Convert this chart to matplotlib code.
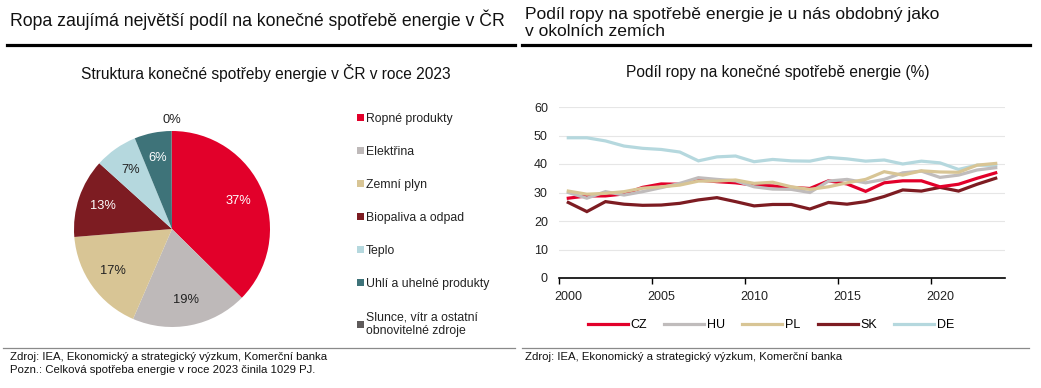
import matplotlib
matplotlib.use("Agg")
import matplotlib.pyplot as plt
from matplotlib.lines import Line2D
import numpy as np

plt.rcParams['font.family'] = ['Liberation Sans', 'DejaVu Sans']

W, H = 1041, 388

def fx(x):
    return x / W

def fy(y):
    return 1 - y / H

# ---------------- data ----------------
pie_labels = ["Ropné produkty", "Elektřina", "Zemní plyn", "Biopaliva a odpad",
              "Teplo", "Uhlí a uhelné produkty", "Slunce, vítr a ostatní\nobnovitelné zdroje"]
pie_values = [37.4, 19.1, 17.2, 13.0, 7.1, 6.1, 0.1]
pie_text = ["37%", "19%", "17%", "13%", "7%", "6%", "0%"]

years = list(range(2000, 2024))
cz = [28.0, 28.8, 28.8, 29.5, 31.8, 33.0, 32.9, 34.4, 33.8, 33.4, 32.6, 32.3,
      31.8, 31.4, 34.1, 33.0, 30.4, 33.4, 34.1, 34.1, 32.0, 32.9, 35.0, 36.9]
hu = [30.0, 28.0, 30.3, 29.1, 30.3, 31.7, 33.2, 35.2, 34.6, 34.1, 32.0, 31.2,
      31.1, 30.0, 34.0, 34.6, 33.4, 34.6, 36.9, 37.5, 35.3, 36.1, 37.9, 38.7]
pl = [30.5, 29.4, 29.7, 30.3, 31.5, 32.0, 32.6, 34.0, 34.0, 34.4, 33.2, 33.6,
      32.0, 31.1, 32.0, 33.4, 34.6, 37.3, 36.1, 37.6, 37.2, 37.1, 39.6, 40.2]
sk = [26.5, 23.3, 26.8, 25.9, 25.5, 25.6, 26.2, 27.4, 28.2, 26.8, 25.3, 25.8,
      25.8, 24.2, 26.5, 25.9, 26.8, 28.6, 30.9, 30.5, 31.8, 30.5, 32.9, 35.0]
de = [49.2, 49.2, 48.1, 46.3, 45.5, 45.1, 44.2, 41.1, 42.5, 42.8, 40.8, 41.6,
      41.1, 41.0, 42.3, 41.8, 41.0, 41.4, 40.0, 41.0, 40.4, 38.1, 39.6, 39.5]
series_names = ["CZ", "HU", "PL", "SK", "DE"]
series_values = [cz, hu, pl, sk, de]
y_ticks = [0, 10, 20, 30, 40, 50, 60]
x_ticks = [2000, 2005, 2010, 2015, 2020]

# ---------------- styles ----------------
pie_colors = ["#E2002A", "#BEB9B9", "#D8C595", "#7D1C22", "#B5D8DE", "#3E7379", "#5E5A5A"]
pie_text_colors = ["white", "#222222", "#222222", "white", "#222222", "white", "#222222"]
line_colors = ["#E2002A", "#C0BCBC", "#D8C595", "#7D1C22", "#B5D8DE"]
line_order = [4, 3, 0, 1, 2]  # draw order (DE, SK, CZ, HU, PL)

fig = plt.figure(figsize=(W / 100, H / 100), dpi=100)
fig.patch.set_facecolor("white")

# ---------------- headers ----------------
fig.text(fx(10), fy(20), "Ropa zaujímá největší podíl na konečné spotřebě energie v ČR",
         fontsize=12.7, ha="left", va="center", color="#111111")
fig.text(fx(525), fy(23), "Podíl ropy na spotřebě energie je u nás obdobný jako\nv okolních zemích",
         fontsize=12.6, ha="left", va="center", color="#111111", linespacing=1.2)
for x0, x1 in [(7, 515), (522, 1030)]:
    fig.add_artist(Line2D([fx(x0), fx(x1)], [fy(45), fy(45)], color="black", lw=2.3))
for x0, x1 in [(3, 515), (522, 1029)]:
    fig.add_artist(Line2D([fx(x0), fx(x1)], [fy(348), fy(348)], color="#8a8a8a", lw=0.9))

fig.text(fx(266), fy(73), "Struktura konečné spotřeby energie v ČR v roce 2023",
         fontsize=11.2, ha="center", va="center", color="#111111")
fig.text(fx(778), fy(73), "Podíl ropy na konečné spotřebě energie (%)",
         fontsize=11.2, ha="center", va="center", color="#111111")

fig.text(fx(10), fy(357), "Zdroj: IEA, Ekonomický a strategický výzkum, Komerční banka",
         fontsize=8.2, ha="left", va="center", color="#111111")
fig.text(fx(10), fy(370), "Pozn.: Celková spotřeba energie v roce 2023 činila 1029 PJ.",
         fontsize=8.2, ha="left", va="center", color="#111111")
fig.text(fx(525), fy(357), "Zdroj: IEA, Ekonomický a strategický výzkum, Komerční banka",
         fontsize=8.2, ha="left", va="center", color="#111111")

# ---------------- pie ----------------
cx, cy, r = 172, 229, 98
axp = fig.add_axes([fx(cx - r), fy(cy + r), 2 * r / W, 2 * r / H])
wedges, _ = axp.pie(pie_values, colors=pie_colors, startangle=90, counterclock=False,
                    radius=1.0, wedgeprops=dict(linewidth=0))
tot = sum(pie_values)
cum = 0
for i, v in enumerate(pie_values):
    mid = 90 - (cum + v / 2) / tot * 360
    cum += v
    dist = 0.74 if i < 6 else 1.11
    axp.text(dist * np.cos(np.radians(mid)), dist * np.sin(np.radians(mid)), pie_text[i],
             ha="center", va="center", fontsize=9.3, color=pie_text_colors[i])
axp.set_xlim(-1, 1)
axp.set_ylim(-1, 1)
axp.set_aspect("equal")
axp.axis("off")

leg = fig.legend(wedges, pie_labels, loc="upper left",
                 bbox_to_anchor=(fx(357), fy(113)), frameon=False, fontsize=8.8,
                 handlelength=0.55, handleheight=0.55, handletextpad=0.2,
                 labelspacing=1.72, borderaxespad=0, borderpad=0)
for t in leg.get_texts():
    t.set_color("#222222")

# ---------------- line chart ----------------
axl = fig.add_axes([fx(559), fy(278), (1005 - 559) / W, (278 - 107) / H])
for i in line_order:
    axl.plot(years, series_values[i], color=line_colors[i], lw=2.3, label=series_names[i],
             solid_joinstyle="miter")
axl.set_xlim(1999.5, 2023.5)
axl.set_ylim(0, 60)
axl.set_yticks(y_ticks)
axl.set_xticks(x_ticks)
axl.set_xticks([t - 0.5 for t in x_ticks], minor=True)
axl.tick_params(axis="x", which="major", length=0, pad=9, labelsize=9, colors="#222222")
axl.tick_params(axis="x", which="minor", length=4, width=1, color="black")
axl.tick_params(axis="y", length=0, pad=8, labelsize=9, colors="#222222")
for s in ["top", "right", "left"]:
    axl.spines[s].set_visible(False)
axl.spines["bottom"].set_color("black")
axl.spines["bottom"].set_linewidth(1.2)
axl.grid(axis="y", color="#e6e6e6", lw=0.8)
axl.set_axisbelow(True)

handles, labels = axl.get_legend_handles_labels()
hmap = dict(zip(labels, handles))
axl.legend([hmap[n] for n in series_names], series_names, loc="center",
           bbox_to_anchor=(fx(771), fy(325)), bbox_transform=fig.transFigure,
           ncol=5, frameon=False, fontsize=9, handlelength=3.2, handletextpad=0.25,
           columnspacing=1.35, borderaxespad=0)

fig.savefig("out.png", dpi=100, facecolor="white")
